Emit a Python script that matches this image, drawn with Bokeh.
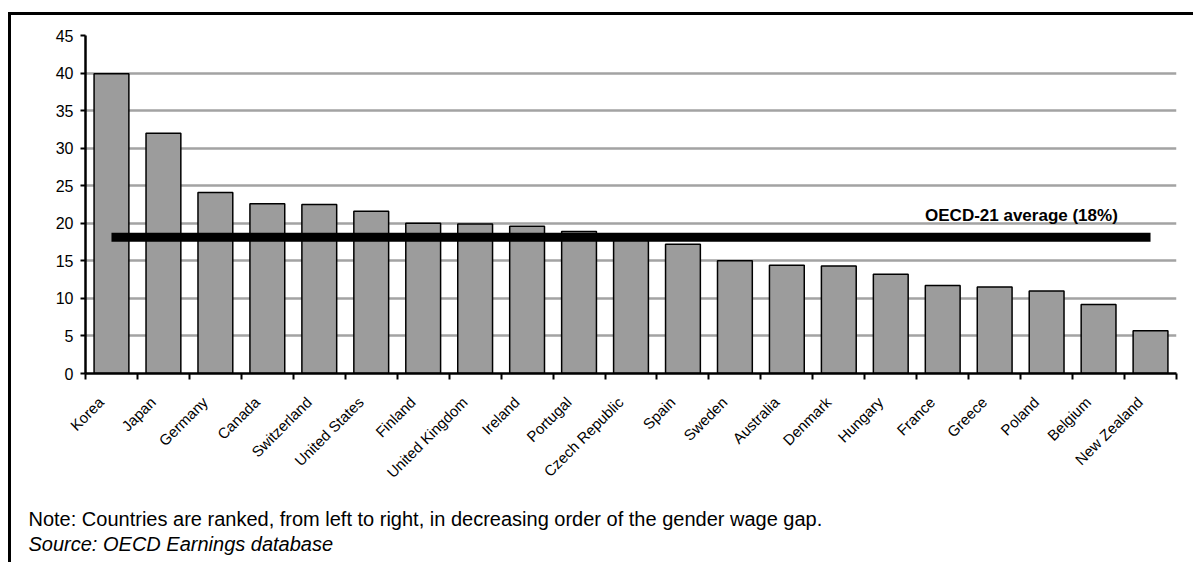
import numpy as np
from bokeh.plotting import figure
from bokeh.layouts import column
from bokeh.models import Range1d, FixedTicker, Label
from bokeh.embed import file_html
from bokeh.resources import INLINE

countries = ["Korea", "Japan", "Germany", "Canada", "Switzerland", "United States",
             "Finland", "United Kingdom", "Ireland", "Portugal", "Czech Republic",
             "Spain", "Sweden", "Australia", "Denmark", "Hungary", "France",
             "Greece", "Poland", "Belgium", "New Zealand"]
wage_gap = [39.9, 32.0, 24.1, 22.6, 22.5, 21.6, 20.0, 19.9, 19.6, 18.9, 18.2,
            17.2, 15.0, 14.4, 14.3, 13.2, 11.7, 11.5, 11.0, 9.2, 5.7]
oecd_average = 18.15
average_label = "OECD-21 average (18%)"
y_ticks = [0, 5, 10, 15, 20, 25, 30, 35, 40, 45]
grid_ticks = [5, 10, 15, 20, 25, 30, 35, 40]
note_text = "Note: Countries are ranked, from left to right, in decreasing order of the gender wage gap."
source_text = "Source: OECD Earnings database"

n = len(countries)
idx = list(range(n))
boundaries = [i - 0.5 for i in range(n + 1)]
label_pos = [i - 0.2 for i in idx]   # labels sit slightly left of bar centres

FONT = "Liberation Sans"
W = 1185

p = figure(width=W, height=480, output_backend="svg", toolbar_location=None,
           x_range=Range1d(-0.5, n - 0.5), y_range=Range1d(0, 45),
           min_border_left=74, min_border_right=20, min_border_top=20,
           min_border_bottom=122,
           styles={"border-left": "3px solid black", "border-top": "3px solid black",
                   "margin-top": "12px", "margin-left": "8px"})
p.frame_align = False
p.outline_line_color = None
p.background_fill_color = "white"
p.border_fill_color = "white"

# grid
p.xgrid.visible = False
p.ygrid.ticker = FixedTicker(ticks=grid_ticks)
p.ygrid.grid_line_color = "#a3a3a3"
p.ygrid.grid_line_width = 2.5

# bars
p.vbar(x=idx, top=wage_gap, width=0.67, bottom=0,
       fill_color="#9c9c9c", line_color="black", line_width=1.5)

# average line
p.line(x=[idx[0], idx[-1]], y=[oecd_average, oecd_average],
       line_width=9, line_color="black", line_cap="butt")

p.add_layout(Label(x=19.37, y=21.05, text=average_label, text_align="right",
                   text_baseline="alphabetic", text_font=FONT,
                   text_font_size="17px", text_font_style="bold", text_color="black"))

# y axis
ya = p.yaxis[0]
ya.ticker = FixedTicker(ticks=y_ticks)
ya.axis_line_width = 2.5
ya.axis_line_color = "black"
ya.major_tick_in = 0
ya.major_tick_out = 5
ya.major_tick_line_width = 2
ya.minor_tick_line_color = None
ya.major_label_text_font = FONT
ya.major_label_text_font_size = "16px"
ya.major_label_text_color = "black"
ya.major_label_standoff = 7

# x axis
xa = p.xaxis[0]
xa.ticker = FixedTicker(ticks=label_pos, minor_ticks=boundaries)
xa.major_label_overrides = {pos: c for pos, c in zip(label_pos, countries)}
xa.major_label_orientation = np.pi / 4
xa.axis_line_width = 2.5
xa.axis_line_color = "black"
xa.major_tick_in = 0
xa.major_tick_out = 0
xa.minor_tick_in = 0
xa.minor_tick_out = 6
xa.minor_tick_line_width = 2
xa.minor_tick_line_color = "black"
xa.major_label_text_font = FONT
xa.major_label_text_font_size = "15px"
xa.major_label_text_color = "black"
xa.major_label_standoff = 20

# notes panel
p2 = figure(width=W, height=70, output_backend="svg", toolbar_location=None,
            x_range=Range1d(0, W), y_range=Range1d(70, 0),
            min_border=0, x_axis_location=None, y_axis_location=None,
            styles={"border-left": "3px solid black", "margin-left": "8px"})
p2.frame_align = False
p2.outline_line_color = None
p2.grid.visible = False
p2.background_fill_color = "white"
p2.border_fill_color = "white"
p2.add_layout(Label(x=17, y=26, text=note_text, text_font=FONT,
                    text_font_size="20px", text_color="black",
                    text_baseline="alphabetic"))
p2.add_layout(Label(x=17, y=51, text=source_text, text_font=FONT,
                    text_font_size="20px", text_font_style="italic",
                    text_color="black", text_baseline="alphabetic"))

layout = column(p, p2, spacing=0)
open("out.html", "w").write(file_html(layout, INLINE))
